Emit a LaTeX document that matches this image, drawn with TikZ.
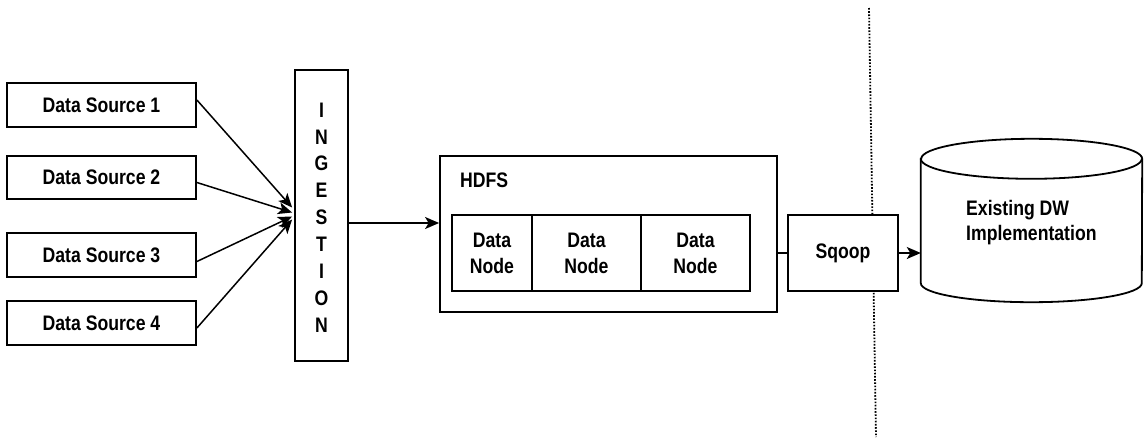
\documentclass[tikz,border=0pt]{standalone}
\usepackage{fontspec}
\setmainfont{Liberation Sans}[FakeStretch=0.84,UprightFont=* Bold]
\usetikzlibrary{arrows.meta,calc}
\begin{document}
\begin{tikzpicture}[x=1pt,y=-1pt,
  box/.style={draw,line width=1.8pt,fill=white,inner sep=0pt,font=\fontsize{21}{26}\selectfont,align=center},
  arr/.style={line width=1.5pt,-{Stealth[length=14pt,width=12pt,inset=3.5pt]}},
  conn/.style={line width=1.5pt},
  sep/.style={line width=1.8pt,dash pattern=on 1.6pt off 1.6pt}]
\useasboundingbox (0,0) rectangle (1144,439);
% separator
\coordinate (septop) at (869,8);
\coordinate (sepbot) at (876,437);
\draw[sep] (septop) -- (sepbot);
% data sources
\node[box,minimum width=189pt,minimum height=44pt] (ds1) at (101.5,105) {Data Source 1};
\node[box,minimum width=189pt,minimum height=43pt] (ds2) at (101.5,177.5) {Data Source 2};
\node[box,minimum width=189pt,minimum height=44pt] (ds3) at (101.5,255) {Data Source 3};
\node[box,minimum width=189pt,minimum height=44pt] (ds4) at (101.5,323) {Data Source 4};
% ingestion
\node[box,minimum width=53pt,minimum height=291pt] (ing) at (321.5,215.5) {};
\node[font=\fontsize{21}{26.9}\selectfont,align=center,inner sep=0pt] (ingtxt) at ([yshift=-2pt]ing.center) {I\\N\\G\\E\\S\\T\\I\\O\\N};
% HDFS
\node[box,minimum width=337pt,minimum height=156pt] (hdfs) at (608.5,234) {};
\node[font=\fontsize{21}{26}\selectfont,anchor=west,inner sep=0pt] (hdfslbl) at (460,180) {HDFS};
\node[box,minimum width=80pt,minimum height=76pt] (dn1) at (492,253) {Data\\Node};
\node[box,minimum width=109pt,minimum height=76pt] (dn2) at (586.5,253) {Data\\Node};
\node[box,minimum width=109pt,minimum height=76pt] (dn3) at (695.5,253) {Data\\Node};
% Sqoop
\node[box,minimum width=110pt,minimum height=76pt] (sq) at (843,253) {Sqoop};
% DW cylinder
\node[minimum width=221pt,minimum height=124pt,inner sep=0pt] (dw) at (1031.5,221) {};
\draw[line width=1.8pt,fill=white] (dw.north west) -- (dw.south west)
  arc[start angle=180,end angle=360,x radius=110.5pt,y radius=19pt] -- (dw.north east)
  arc[start angle=0,end angle=180,x radius=110.5pt,y radius=20pt] -- cycle;
\draw[line width=1.8pt] (dw.north west) arc[start angle=180,end angle=360,x radius=110.5pt,y radius=20pt];
\node[font=\fontsize{21}{25}\selectfont,align=left,anchor=west,inner sep=0pt] (dwtxt) at (966,223) {Existing DW\\Implementation};
% connectors
\draw[arr] ([yshift=5pt]ds1.east) -- ([yshift=8pt,xshift=-2pt]ing.west);
\draw[arr] ([yshift=-5pt]ds2.east) -- ([yshift=3pt,xshift=-2pt]ing.west);
\draw[arr] ([yshift=-6.5pt]ds3.east) -- ([yshift=-1pt,xshift=-2pt]ing.west);
\draw[arr] ([yshift=-5pt]ds4.east) -- ([yshift=-4pt,xshift=-2pt]ing.west);
\draw[arr] ([yshift=-7.5pt]ing.east) coordinate (a1) -- (a1 -| hdfs.west);
\draw[conn] (sq.west -| hdfs.east) -- (sq.west);
\draw[arr] (sq.east) -- (sq.east -| dw.west);
\end{tikzpicture}
\end{document}
